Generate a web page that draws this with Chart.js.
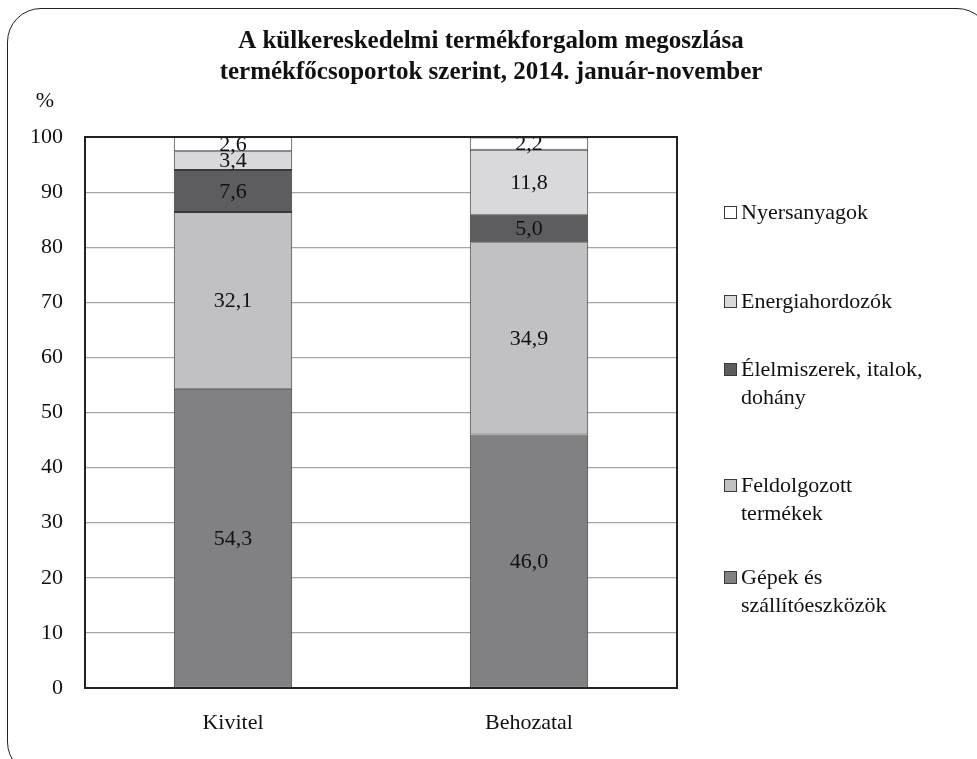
<!DOCTYPE html>
<html>
<head>
  <title>Külkereskedelmi termékforgalom</title>
  <script src="https://cdn.jsdelivr.net/npm/chart.js"></script>
  <style>
    body {
      margin: 0;
      background: #ffffff;
      overflow: hidden;
    }

    .wrap {
      position: relative;
      width: 977px;
      height: 759px;
      overflow: hidden;
    }

    .frame {
      position: absolute;
      left: 7px;
      top: 8px;
      width: 984px;
      height: 768px;
      border: 1.5px solid #222;
      border-radius: 34px;
      box-sizing: border-box;
    }

    canvas {
      position: absolute;
      left: 0;
      top: 0;
    }
  </style>
</head>
<body>
  <div class="wrap">
    <div class="frame"></div>
    <canvas id="chart" width="977" height="759"></canvas>
  </div>

  <script>
    const categories = ["Kivitel", "Behozatal"];
    const seriesNames = [
      "Gépek és\nszállítóeszközök",
      "Feldolgozott\ntermékek",
      "Élelmiszerek, italok,\ndohány",
      "Energiahordozók",
      "Nyersanyagok"
    ];
    const gepek = [54.3, 46.0];
    const feldolgozott = [32.1, 34.9];
    const elelmiszer = [7.6, 5.0];
    const energia = [3.4, 11.8];
    const nyersanyag = [2.6, 2.2];
    const titleLines = [
      "A külkereskedelmi termékforgalom megoszlása",
      "termékfőcsoportok szerint, 2014. január-november"
    ];
    const unitLabel = "%";

    const colors = ["#818184", "#c1c1c4", "#5d5d5f", "#d9d9db", "#ffffff"];
    const fontFamily = "'Liberation Serif', 'DejaVu Serif', serif";
    const textSize = 22;

    // first-line y of each legend item, top to bottom (Nyersanyagok first)
    const legendY = [213, 302, 370, 486, 578];

    const values = [gepek, feldolgozott, elelmiszer, energia, nyersanyag];
    const datasets = values.map((v, i) => ({
      label: seriesNames[i],
      data: v,
      backgroundColor: colors[i],
      borderColor: "#3a3a3a",
      borderWidth: 1,
      borderSkipped: false,
      barPercentage: 0.8,
      categoryPercentage: 0.5
    }));

    const extras = {
      id: "extras",
      afterDatasetsDraw(chart) {
        const ctx = chart.ctx;
        ctx.save();
        ctx.font = textSize + "px " + fontFamily;
        ctx.fillStyle = "#111";
        ctx.textAlign = "center";
        ctx.textBaseline = "middle";
        chart.data.datasets.forEach((ds, i) => {
          const meta = chart.getDatasetMeta(i);
          meta.data.forEach((bar, j) => {
            const y = (bar.y + bar.base) / 2;
            ctx.fillText(ds.data[j].toFixed(1).replace(".", ","), bar.x, y + 1);
          });
        });
        ctx.restore();
      },
      afterDraw(chart) {
        const ctx = chart.ctx;
        const a = chart.chartArea;
        ctx.save();

        // plot border
        ctx.strokeStyle = "#222";
        ctx.lineWidth = 2;
        ctx.strokeRect(a.left, a.top, a.right - a.left, a.bottom - a.top);

        // title
        ctx.fillStyle = "#111";
        ctx.textAlign = "center";
        ctx.textBaseline = "middle";
        ctx.font = "bold 25px " + fontFamily;
        titleLines.forEach((t, i) => ctx.fillText(t, 491, 42 + i * 31));

        // unit
        ctx.font = textSize + "px " + fontFamily;
        ctx.fillText(unitLabel, 45, 101);

        // legend (reverse order, top item is last series)
        ctx.textAlign = "left";
        const n = chart.data.datasets.length;
        for (let k = 0; k < n; k++) {
          const ds = chart.data.datasets[n - 1 - k];
          const y = legendY[k];
          ctx.fillStyle = ds.backgroundColor;
          ctx.fillRect(724.5, y - 6.5, 12, 12);
          ctx.strokeStyle = "#3a3a3a";
          ctx.lineWidth = 1;
          ctx.strokeRect(724.5, y - 6.5, 12, 12);
          ctx.fillStyle = "#111";
          ds.label.split("\n").forEach((line, li) => {
            ctx.fillText(line, 741, y + li * 28);
          });
        }
        ctx.restore();
      }
    };

    new Chart(document.getElementById("chart"), {
      type: "bar",
      data: { labels: categories, datasets: datasets },
      options: {
        responsive: false,
        animation: false,
        layout: { padding: { left: 0, right: 300, top: 137, bottom: 0 } },
        plugins: {
          legend: { display: false },
          title: { display: false },
          tooltip: { enabled: false }
        },
        scales: {
          x: {
            stacked: true,
            grid: { display: false, drawTicks: false },
            border: { display: false },
            ticks: {
              padding: 22,
              color: "#111",
              font: { family: fontFamily, size: textSize }
            },
            afterFit(scale) { scale.height = 759 - 688; }
          },
          y: {
            stacked: true,
            min: 0,
            max: 100,
            grid: { color: "#a6a6a6", lineWidth: 1.2, drawTicks: false },
            border: { display: false },
            ticks: {
              stepSize: 10,
              padding: 22,
              color: "#111",
              font: { family: fontFamily, size: textSize }
            },
            afterFit(scale) { scale.width = 85; }
          }
        }
      },
      plugins: [extras]
    });
  </script>
</body>
</html>
